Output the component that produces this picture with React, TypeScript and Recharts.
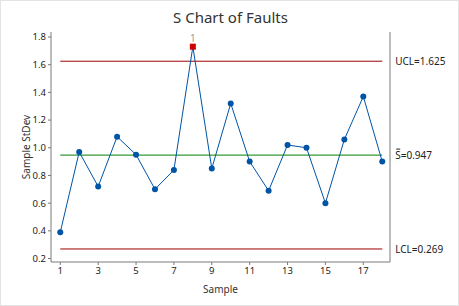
import { LineChart, Line, XAxis, YAxis, ReferenceLine } from 'recharts'

const samples = [1, 2, 3, 4, 5, 6, 7, 8, 9, 10, 11, 12, 13, 14, 15, 16, 17, 18]
const stdevs = [0.39, 0.97, 0.72, 1.08, 0.95, 0.7, 0.84, 1.73, 0.85, 1.32, 0.9, 0.69, 1.02, 1.0, 0.6, 1.06, 1.37, 0.9]
const xTicks = [1, 3, 5, 7, 9, 11, 13, 15, 17]
const yTicks = [0.2, 0.4, 0.6, 0.8, 1.0, 1.2, 1.4, 1.6, 1.8]
const UCL = 1.625
const CENTER = 0.947
const LCL = 0.269

const data = samples.map((s, i) => ({ sample: s, stdev: stdevs[i] }))

const font = '"Segoe UI", "Noto Sans", "Open Sans", sans-serif'
const axisColor = '#7a7a7a'
const tickStyle = { fontSize: 9.5, fill: '#222', fontFamily: font }

function Dot(props: any) {
  const { cx, cy, payload } = props
  if (payload.stdev > UCL) {
    return (
      <g key={`d${payload.sample}`}>
        <rect x={cx - 3} y={cy - 3} width={6} height={6} fill="#cc0000" />
        <text x={cx} y={cy - 5} textAnchor="middle" fontSize={10} fill="#9a9a9a" fontFamily={font}>1</text>
      </g>
    )
  }
  return <circle key={`d${payload.sample}`} cx={cx} cy={cy} r={3} fill="#0054a6" />
}

function limitLabel(text: string) {
  return (props: any) => {
    const vb = props.viewBox
    return (
      <text x={vb.x + vb.width + 13} y={vb.y + 4} fontSize={10} fill="#222" fontFamily={font}>{text}</text>
    )
  }
}

function SBarLabel(props: any) {
  const vb = props.viewBox
  const x = vb.x + vb.width + 13
  const y = vb.y + 4
  return (
    <g>
      <line x1={x + 1} x2={x + 5} y1={y - 10} y2={y - 10} stroke="#222" strokeWidth={1} />
      <text x={x} y={y} fontSize={10} fill="#222" fontFamily={font}>S=0.947</text>
    </g>
  )
}

export default function App() {
  return (
    <div style={{ position: 'absolute', left: 0, top: 0, width: 459, height: 306, boxSizing: 'border-box', border: '1px solid #e3e3e3', background: '#fff' }}>
      <div style={{ position: 'absolute', left: 0, top: 6, width: 459, textAlign: 'center', fontFamily: font, fontSize: 15, color: '#333' }}>
        S Chart of Faults
      </div>
      <div style={{ position: 'absolute', left: -1, top: -1 }}>
        <LineChart width={459} height={306} data={data} margin={{ top: 32, right: 68, bottom: 14, left: 21 }}>
          <XAxis
            dataKey="sample"
            type="number"
            domain={[0.51, 18.41]}
            ticks={xTicks}
            interval={0}
            tickSize={3}
            stroke={axisColor}
            tick={tickStyle}
            height={30}
            allowDataOverflow
            label={{ value: 'Sample', position: 'insideBottom', offset: -1, fontSize: 10, fill: '#333', fontFamily: font }}
          />
          <XAxis xAxisId="top" orientation="top" type="number" domain={[0.51, 18.41]} tick={false} tickLine={false} stroke={axisColor} height={0} />
          <YAxis
            type="number"
            domain={[0.175, 1.836]}
            ticks={yTicks}
            interval={0}
            tickSize={3}
            stroke={axisColor}
            tick={tickStyle}
            width={30}
            allowDataOverflow
            tickFormatter={(v: number) => v.toFixed(1)}
            label={{ value: 'Sample StDev', angle: -90, position: 'insideLeft', offset: 5, fontSize: 10, fill: '#333', fontFamily: font, style: { textAnchor: 'middle' } }}
          />
          <YAxis yAxisId="right" orientation="right" domain={[0, 1]} tick={false} tickLine={false} stroke={axisColor} width={1} />
          <ReferenceLine segment={[{ x: 1, y: UCL }, { x: 18, y: UCL }]} stroke="#a00000" strokeWidth={1} label={limitLabel('UCL=1.625')} />
          <ReferenceLine segment={[{ x: 1, y: CENTER }, { x: 18, y: CENTER }]} stroke="#008000" strokeWidth={1} label={SBarLabel} />
          <ReferenceLine segment={[{ x: 1, y: LCL }, { x: 18, y: LCL }]} stroke="#a00000" strokeWidth={1} label={limitLabel('LCL=0.269')} />
          <Line dataKey="stdev" stroke="#0054a6" strokeWidth={1} dot={Dot} activeDot={false} isAnimationActive={false} />
        </LineChart>
      </div>
    </div>
  )
}
